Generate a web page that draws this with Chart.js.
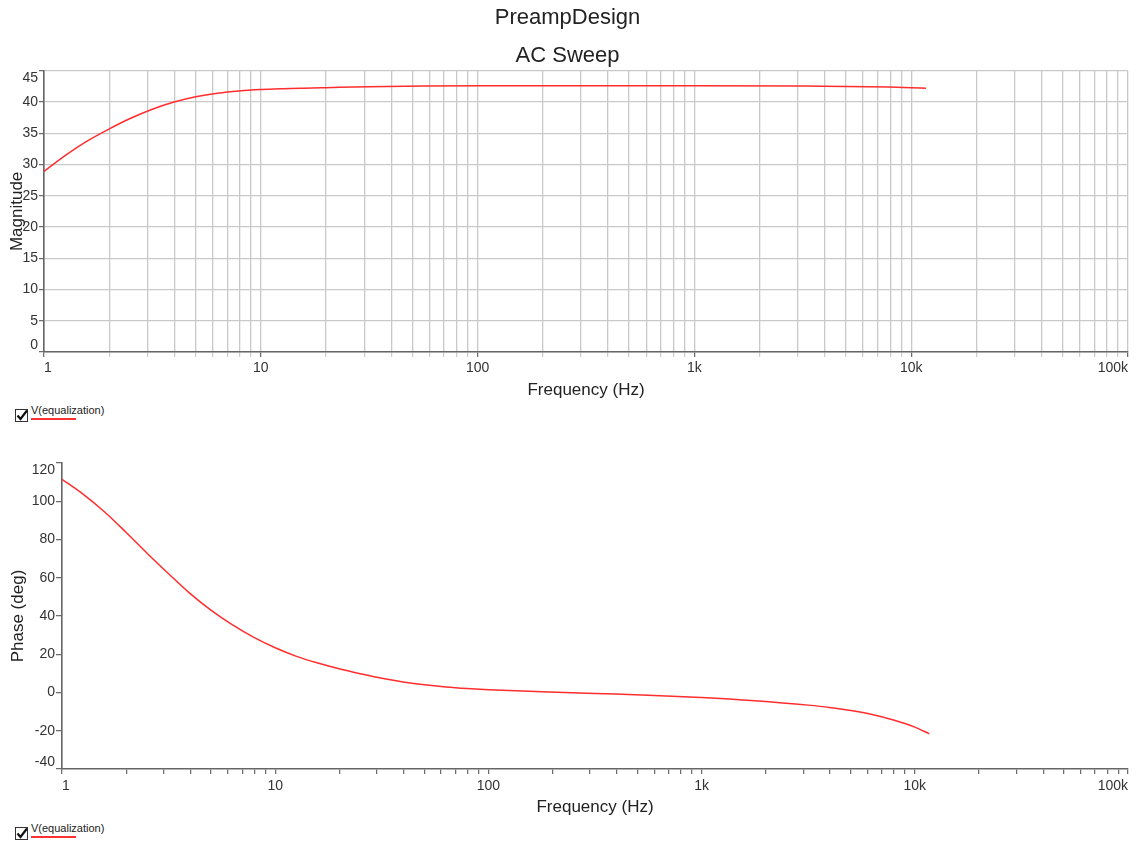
<!DOCTYPE html>
<html>
<head>
<meta charset="utf-8">
<script src="https://cdn.jsdelivr.net/npm/chart.js@4.4.1/dist/chart.umd.min.js"></script>
<style>
  html, body { margin: 0; padding: 0; background: #fff; }
  body { width: 1137px; height: 845px; position: relative; overflow: hidden; font-family: "Liberation Sans", Arial, sans-serif; }
  .cv { position: absolute; left: 0; }
  .legend { position: absolute; left: 15px; height: 20px; width: 120px; }
  .legend .box { position: absolute; left: 0; width: 11px; height: 11px; border: 1.7px solid #333; background: #fff; }
  .legend .box svg { position: absolute; left: -1px; top: -2px; }
  .legend .txt { position: absolute; left: 16px; font-size: 11px; color: #222; white-space: nowrap; line-height: 12px; }
  .legend .ln { position: absolute; left: 16px; width: 45px; height: 1.5px; background: rgb(255,50,50); }
</style>
</head>
<body>
<canvas id="mag" class="cv" style="top:0px" width="1137" height="401"></canvas>
<div class="legend" style="top:404px">
  <div class="box" style="top:5px"><svg width="14" height="14" viewBox="0 0 14 14"><path d="M2.5 7.5 L5.5 11 L12 2.5" stroke="#111" stroke-width="2.2" fill="none"/></svg></div>
  <div class="txt" id="leg1" style="top:0px"></div>
  <div class="ln" style="top:14px"></div>
</div>
<canvas id="phase" class="cv" style="top:430px" width="1137" height="388"></canvas>
<div class="legend" style="top:822px">
  <div class="box" style="top:5px"><svg width="14" height="14" viewBox="0 0 14 14"><path d="M2.5 7.5 L5.5 11 L12 2.5" stroke="#111" stroke-width="2.2" fill="none"/></svg></div>
  <div class="txt" id="leg2" style="top:0px"></div>
  <div class="ln" style="top:14px"></div>
</div>
<script>
// ---- data ----
const chartTitle = 'PreampDesign';
const chartSubtitle = 'AC Sweep';
const seriesName = 'V(equalization)';
const xTitle = 'Frequency (Hz)';
const magTitle = 'Magnitude';
const phaseTitle = 'Phase (deg)';

const magFreq  = [1, 1.26, 1.58, 2, 2.51, 3.16, 3.98, 5.01, 6.31, 7.94, 10, 12.6, 15.8, 20, 31.6, 56.2, 100, 1000, 3162, 5012, 7943, 10000, 11700];
const magValue = [28.9, 31.5, 33.75, 35.7, 37.4, 38.85, 40.0, 40.85, 41.42, 41.78, 42.0, 42.13, 42.22, 42.3, 42.45, 42.55, 42.6, 42.6, 42.55, 42.5, 42.4, 42.3, 42.2];

const phaseFreq  = [1, 1.259, 1.585, 1.995, 2.512, 3.162, 3.981, 5.012, 6.31, 7.943, 10, 12.59, 15.85, 19.95, 25.12, 31.62, 39.81, 50.12, 63.1, 79.43, 100, 177.8, 316.2, 562.3, 1000, 1778, 3162, 3981, 5012, 6310, 7943, 10000, 11700];
const phaseValue = [111.5, 103.6, 94.4, 83.8, 72.7, 62.1, 51.8, 42.9, 35.3, 28.8, 23.4, 18.9, 15.4, 12.4, 9.8, 7.4, 5.5, 4.0, 2.9, 2.1, 1.5, 0.45, -0.5, -1.4, -2.6, -4.3, -6.6, -7.8, -9.4, -11.5, -14.4, -18.1, -21.6];

const decadeValues = [1, 10, 100, 1000, 10000, 100000];
const decadeLabels = ['1', '10', '100', '1k', '10k', '100k'];
const magTicks = [0, 5, 10, 15, 20, 25, 30, 35, 40, 45];
const phaseTicks = [-40, -20, 0, 20, 40, 60, 80, 100, 120];

document.getElementById('leg1').textContent = seriesName;
document.getElementById('leg2').textContent = seriesName;

// ---- helpers ----
const FONT = '"Liberation Sans", Arial, sans-serif';
const RED = 'rgb(255,45,45)';
const AXIS = '#666';
const GRID = '#c9c9c9';

function logTickValues() {
  const out = [];
  for (let d = 0; d < decadeValues.length - 1; d++) {
    for (let m = 1; m <= 9; m++) out.push(decadeValues[d] * m);
  }
  out.push(decadeValues[decadeValues.length - 1]);
  return out;
}
function labelFor(v) {
  const i = decadeValues.findIndex(d => Math.abs(d - v) < 1e-9);
  return i >= 0 ? decadeLabels[i] : '';
}
function pairs(xs, ys) { return xs.map((x, i) => ({x: x, y: ys[i]})); }

Chart.defaults.font.family = FONT;
Chart.defaults.color = '#222';
Chart.defaults.animation = false;

// keep the end labels of the value axis inside the axis span
const innerYLabels = {
  id: 'innerYLabels',
  beforeDraw(chart) {
    const s = chart.scales.y;
    if (!s || !s.getLabelItems) return;
    const items = s.getLabelItems();
    if (!items.length) return;
    items[0].options.textBaseline = 'bottom';
    items[items.length - 1].options.textBaseline = 'top';
  }
};

function makeX(withGrid, tickPad) {
  return {
    type: 'logarithmic',
    min: decadeValues[0],
    max: decadeValues[decadeValues.length - 1],
    afterBuildTicks: s => { s.ticks = logTickValues().map(v => ({value: v, major: decadeValues.includes(v)})); },
    afterFit: s => { s.height = 49; },
    ticks: {
      autoSkip: false, maxRotation: 0, align: 'inner', padding: tickPad,
      font: {size: 14}, color: '#333',
      callback: (v) => labelFor(v)
    },
    grid: {
      display: true, drawOnChartArea: withGrid, drawTicks: true, tickLength: 5,
      color: GRID, lineWidth: 1.3,
      tickColor: withGrid ? (ctx => decadeValues.includes(ctx.tick && ctx.tick.value) ? AXIS : GRID) : AXIS,
      tickWidth: 1.2
    },
    border: {display: true, color: AXIS, width: 1.5},
    title: {display: true, text: xTitle, font: {size: 17}, color: '#222', padding: {top: 0, bottom: 0}}
  };
}

function makeY(min, max, values, width, withGrid, titleText, tickLen) {
  return {
    type: 'linear', min: min, max: max,
    afterBuildTicks: s => { s.ticks = values.map(v => ({value: v})); },
    afterFit: s => { s.width = width; },
    ticks: {padding: 1, font: {size: 14}, color: '#333'},
    grid: {
      display: true, drawOnChartArea: withGrid, drawTicks: true, tickLength: tickLen,
      color: GRID, lineWidth: 1.3, tickColor: AXIS, tickWidth: 1.2
    },
    border: {display: true, color: AXIS, width: 1.6},
    title: {display: true, text: titleText, font: {size: 17}, color: '#222', padding: {top: 0, bottom: 0}}
  };
}

const lineDs = (data) => ({
  label: seriesName, data: data, borderColor: RED, backgroundColor: RED,
  borderWidth: 1.5, pointRadius: 0, cubicInterpolationMode: 'monotone', fill: false
});

new Chart(document.getElementById('mag'), {
  type: 'line',
  data: {datasets: [lineDs(pairs(magFreq, magValue))]},
  plugins: [innerYLabels],
  options: {
    responsive: false,
    layout: {padding: {left: 7, right: 9, top: 0, bottom: 0}},
    plugins: {
      legend: {display: false},
      tooltip: {enabled: false},
      title: {display: true, text: chartTitle, font: {size: 22, weight: 'normal'}, color: '#222', padding: {top: 5, bottom: 6}},
      subtitle: {display: true, text: chartSubtitle, font: {size: 22, weight: 'normal'}, color: '#222', padding: {top: 5, bottom: 2}}
    },
    scales: {
      x: makeX(true, 3),
      y: makeY(0, 45, magTicks, 37, true, magTitle, 5)
    }
  }
});

new Chart(document.getElementById('phase'), {
  type: 'line',
  data: {datasets: [lineDs(pairs(phaseFreq, phaseValue))]},
  plugins: [innerYLabels],
  options: {
    responsive: false,
    layout: {padding: {left: 8, right: 9, top: 33, bottom: 0}},
    plugins: {legend: {display: false}, tooltip: {enabled: false}},
    scales: {
      x: makeX(false, 4),
      y: makeY(-40, 120, phaseTicks, 54, false, phaseTitle, 6)
    }
  }
});
</script>
</body>
</html>
